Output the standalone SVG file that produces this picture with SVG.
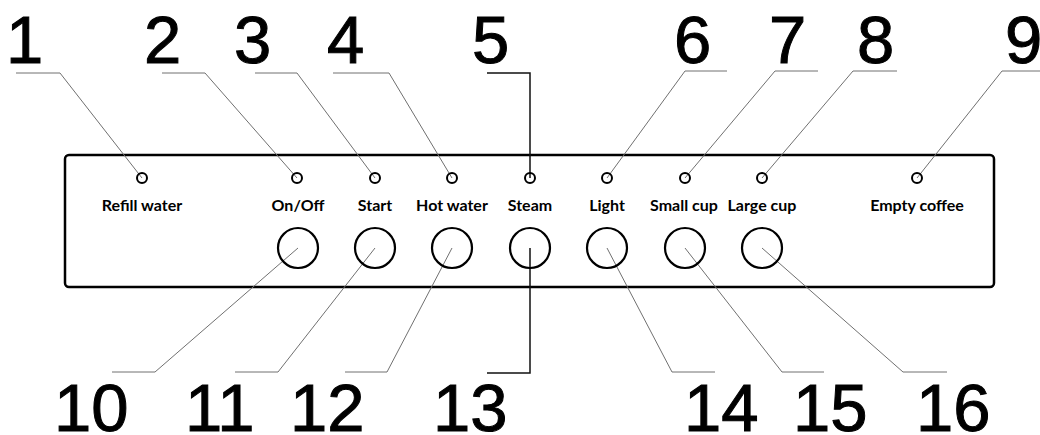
<svg xmlns="http://www.w3.org/2000/svg" width="1040" height="435" viewBox="0 0 1040 435">
<style>
.num{font-family:"Liberation Sans",Arial,sans-serif;font-size:67px;fill:#000;stroke:#000;stroke-width:1}
.lbl{font-family:Lato,"Liberation Sans",sans-serif;font-weight:bold;font-size:16px;fill:#000;text-anchor:middle}
.led{fill:none;stroke:#000;stroke-width:2}
.btn{fill:none;stroke:#000;stroke-width:2.2}
.lead{fill:none;stroke:#707070;stroke-width:1}
.leadd{fill:none;stroke:#111;stroke-width:1.5}
</style>
<rect width="1040" height="435" fill="#fff"/>
<g id="panel"><rect x="65" y="155" width="929" height="132" rx="4" fill="none" stroke="#000" stroke-width="2.5"/></g>
<g id="connectors">
<polyline class="lead" points="16,73 60,73 142,178"/>
<polyline class="lead" points="162,73 205,73 297,178"/>
<polyline class="lead" points="255,73 297,73 375,178"/>
<polyline class="lead" points="333,73 389,73 452,178"/>
<polyline class="leadd" points="487,73 530,73 530,178"/>
<polyline class="lead" points="727,71 685,71 607,178"/>
<polyline class="lead" points="818,71 775,71 685,178"/>
<polyline class="lead" points="897,71 853,71 762,178"/>
<polyline class="lead" points="1040,71 1002,71 917,178"/>
<polyline class="lead" points="112,372 155,372 298,248"/>
<polyline class="lead" points="235,372 278,372 375,248"/>
<polyline class="lead" points="345,372 387,372 452,248"/>
<polyline class="leadd" points="487,373 530,373 530,248"/>
<polyline class="lead" points="715,372 672,372 607,248"/>
<polyline class="lead" points="824,372 782,372 685,248"/>
<polyline class="lead" points="947,372 903,372 762,248"/>
</g>
<g id="led1"><circle class="led" cx="142" cy="178" r="5"/><text class="lbl" x="142" y="211">Refill water</text></g>
<g id="led2"><circle class="led" cx="297" cy="178" r="5"/><text class="lbl" x="298" y="211">On/Off</text></g>
<g id="led3"><circle class="led" cx="375" cy="178" r="5"/><text class="lbl" x="375" y="211">Start</text></g>
<g id="led4"><circle class="led" cx="452" cy="178" r="5"/><text class="lbl" x="452" y="211">Hot water</text></g>
<g id="led5"><circle class="led" cx="530" cy="178" r="5"/><text class="lbl" x="530" y="211">Steam</text></g>
<g id="led6"><circle class="led" cx="607" cy="178" r="5"/><text class="lbl" x="607" y="211">Light</text></g>
<g id="led7"><circle class="led" cx="685" cy="178" r="5"/><text class="lbl" x="684" y="211">Small cup</text></g>
<g id="led8"><circle class="led" cx="762" cy="178" r="5"/><text class="lbl" x="762" y="211">Large cup</text></g>
<g id="led9"><circle class="led" cx="917" cy="178" r="5"/><text class="lbl" x="917" y="211">Empty coffee</text></g>
<g id="btn10"><circle class="btn" cx="298" cy="248" r="20"/></g>
<g id="btn11"><circle class="btn" cx="375" cy="248" r="20"/></g>
<g id="btn12"><circle class="btn" cx="452" cy="248" r="20"/></g>
<g id="btn13"><circle class="btn" cx="530" cy="248" r="20"/></g>
<g id="btn14"><circle class="btn" cx="607" cy="248" r="20"/></g>
<g id="btn15"><circle class="btn" cx="685" cy="248" r="20"/></g>
<g id="btn16"><circle class="btn" cx="762" cy="248" r="20"/></g>
<g id="numbers">
<text class="num" x="6" y="63">1</text>
<text class="num" x="144" y="63">2</text>
<text class="num" x="234" y="63">3</text>
<text class="num" x="327" y="63">4</text>
<text class="num" x="472" y="63">5</text>
<text class="num" x="674" y="63">6</text>
<text class="num" x="769" y="63">7</text>
<text class="num" x="857" y="63">8</text>
<text class="num" x="1005" y="63">9</text>
<text class="num" x="54" y="431">10</text>
<text class="num" x="185" y="431">11</text>
<text class="num" x="290" y="431">12</text>
<text class="num" x="433" y="431">13</text>
<text class="num" x="684" y="431">14</text>
<text class="num" x="793" y="431">15</text>
<text class="num" x="916" y="431">16</text>
</g>
</svg>
